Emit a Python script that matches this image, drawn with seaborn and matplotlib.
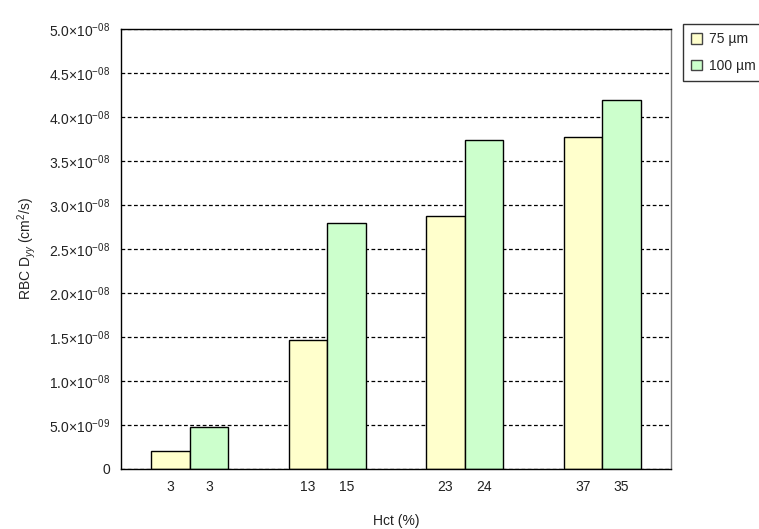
import matplotlib
matplotlib.use("Agg")
import matplotlib.pyplot as plt
import seaborn as sns
import pandas as pd
import numpy as np

groups = ["G1", "G2", "G3", "G4"]
series = ["75 \u00b5m", "100 \u00b5m"]
vals_75 = [2.1e-9, 1.47e-8, 2.87e-8, 3.77e-8]
vals_100 = [4.8e-9, 2.80e-8, 3.74e-8, 4.19e-8]
hct_75 = ["3", "13", "23", "37"]
hct_100 = ["3", "15", "24", "35"]
yticks = [0, 5e-9, 1e-8, 1.5e-8, 2e-8, 2.5e-8, 3e-8, 3.5e-8, 4e-8, 4.5e-8, 5e-8]
ytick_labels = ["0"] + [r"$\mathregular{%s{\times}10^{-%s}}$" % (m, e) for m, e in
                        [("5.0", "09"), ("1.0", "08"), ("1.5", "08"), ("2.0", "08"), ("2.5", "08"),
                         ("3.0", "08"), ("3.5", "08"), ("4.0", "08"), ("4.5", "08"), ("5.0", "08")]]

df = pd.DataFrame({
    "group": groups * 2,
    "series": [series[0]] * 4 + [series[1]] * 4,
    "value": vals_75 + vals_100,
    "hct": hct_75 + hct_100,
})

sns.set_style("white")
plt.rcParams["font.family"] = ["Liberation Sans", "DejaVu Sans"]
plt.rcParams["mathtext.fontset"] = "custom"
plt.rcParams["mathtext.rm"] = "Liberation Sans"
plt.rcParams["mathtext.it"] = "Liberation Sans:italic"

fig = plt.figure(figsize=(7.59, 5.29), dpi=100)
ax = fig.add_axes([121 / 759, 1 - 469 / 529, 550 / 759, 440 / 529])

colors = ["#FFFFCC", "#CCFFCC"]
sns.barplot(data=df, x="group", y="value", hue="series", hue_order=series,
            palette=colors, width=0.56, edgecolor="black", linewidth=1.0,
            saturation=1, ax=ax, legend=False, errorbar=None)

ax.set_xlim(-0.5, 3.5)
ax.set_ylim(0, 5e-8)
ax.set_yticks(yticks)
ax.set_yticklabels(ytick_labels, fontsize=10, color="#222222")
ax.yaxis.grid(True, linestyle=(0, (3, 2)), color="black", linewidth=0.9)
ax.set_axisbelow(True)

# x tick labels under each bar
centers, labels = [], []
for cont, lab in zip(ax.containers, [hct_75, hct_100]):
    for patch, l in zip(cont.patches, lab):
        centers.append(patch.get_x() + patch.get_width() / 2)
        labels.append(l)
ax.set_xticks(centers)
ax.set_xticklabels(labels, fontsize=10, color="#222222")
ax.tick_params(axis="both", length=0)
ax.tick_params(axis="y", pad=8)
ax.tick_params(axis="x", pad=8)

for s in ax.spines.values():
    s.set_color("black")
    s.set_linewidth(1.0)
ax.spines["right"].set_color("#777777")

ax.set_xlabel("Hct (%)", fontsize=10, color="#222222", labelpad=14)
ax.set_ylabel(r"RBC D$_{\mathit{yy}}$ (cm$^{2}$/s)", fontsize=10, color="#222222", labelpad=8)

from matplotlib.patches import Patch
handles = [Patch(facecolor=c, edgecolor="#444444", label=s) for c, s in zip(colors, series)]
leg = fig.legend(handles=handles, loc="upper left", bbox_to_anchor=(683 / 759, 1 - 24 / 529),
                 frameon=True, fancybox=False, edgecolor="black", fontsize=10,
                 handlelength=0.8, handleheight=0.8, handletextpad=0.5,
                 borderpad=0.6, labelspacing=0.9, borderaxespad=0)
leg.get_frame().set_linewidth(1.0)

fig.savefig("out.png", dpi=100)
